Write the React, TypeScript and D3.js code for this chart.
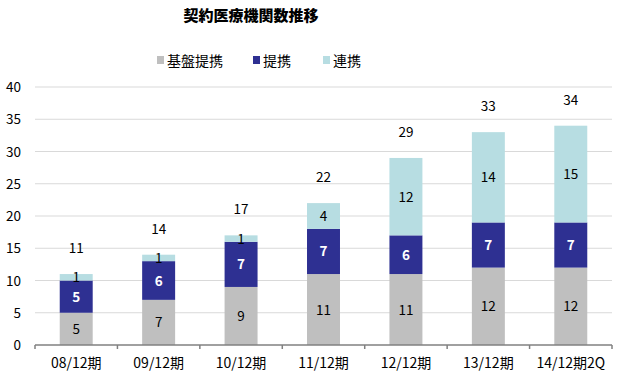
import React from "react";
import * as d3 from "d3";

const categories = ["08/12期", "09/12期", "10/12期", "11/12期", "12/12期", "13/12期", "14/12期2Q"];
const kiban = [5, 7, 9, 11, 11, 12, 12];
const teikei = [5, 6, 7, 7, 6, 7, 7];
const renkei = [1, 1, 1, 4, 12, 14, 15];
const seriesNames = ["基盤提携", "提携", "連携"];
const yTicks = [0, 5, 10, 15, 20, 25, 30, 35, 40];

const colors = ["#BFBFBF", "#2E3092", "#B7DDE2"];
const labelColors = ["#000", "#fff", "#000"];
const FONT = "'Noto Sans CJK JP', 'Noto Sans', sans-serif";

export default function App() {
  const W = 619, H = 378;
  const left = 35, right = 612, top = 87, bottom = 345;
  const x = d3.scaleBand<string>().domain(categories).range([left, right]).paddingInner(0.6).paddingOuter(0.3);
  const xb = d3.scaleBand<string>().domain(categories).range([left, right]);
  const y = d3.scaleLinear().domain([0, 40]).range([bottom, top]);

  const rows = categories.map((c, i) => ({ cat: c, a: kiban[i], b: teikei[i], c: renkei[i] }));
  const stack = d3.stack<any>().keys(["a", "b", "c"])(rows);

  return (
    <svg width={W} height={H} style={{ position: "absolute", left: 0, top: 0, fontFamily: FONT }}>
      <rect x={0} y={0} width={W} height={H} fill="#fff" />
      <text x={251} y={21} textAnchor="middle" fontSize={15} fontWeight={900}>契約医療機関数推移</text>
      {/* legend */}
      {[{ x: 157, n: 0 }, { x: 253, n: 1 }, { x: 323, n: 2 }].map((l) => (
        <g key={l.n}>
          <rect x={l.x} y={56} width={7} height={8} fill={colors[l.n]} />
          <text x={l.x + 10} y={66} fontSize={14}>{seriesNames[l.n]}</text>
        </g>
      ))}
      {/* grid */}
      {yTicks.map((t) => (
        <g key={t}>
          {t > 0 && <line x1={left} x2={right} y1={y(t)} y2={y(t)} stroke="#D9D9D9" strokeWidth={1} />}
          <text x={21} y={y(t) + 5} textAnchor="end" fontSize={13.5}>{t}</text>
        </g>
      ))}
      {/* bars */}
      {stack.map((s, si) => (
        <g key={si}>
          {s.map((d, i) => (
            <g key={i}>
              <rect x={x(categories[i])} y={y(d[1])} width={x.bandwidth()} height={y(d[0]) - y(d[1])} fill={colors[si]} />
              <text
                x={(x(categories[i]) as number) + x.bandwidth() / 2}
                y={(y(d[0]) + y(d[1])) / 2 + 5}
                textAnchor="middle"
                fontSize={13.5}
                fontWeight={si === 1 ? "bold" : "normal"}
                fill={labelColors[si]}
              >
                {d[1] - d[0]}
              </text>
            </g>
          ))}
        </g>
      ))}
      {/* totals */}
      {rows.map((r, i) => (
        <text key={i} x={(x(r.cat) as number) + x.bandwidth() / 2} y={y(r.a + r.b + r.c) - 21} textAnchor="middle" fontSize={13.5}>
          {r.a + r.b + r.c}
        </text>
      ))}
      {/* x axis */}
      <line x1={left} x2={right} y1={bottom} y2={bottom} stroke="#808080" strokeWidth={1.5} />
      {categories.map((c, i) => (
        <line key={i} x1={xb(c)} x2={xb(c)} y1={bottom} y2={bottom + 4} stroke="#808080" strokeWidth={1.5} />
      ))}
      <line x1={right} x2={right} y1={bottom} y2={bottom + 4} stroke="#808080" strokeWidth={1.5} />
      {categories.map((c) => (
        <text key={c} x={(xb(c) as number) + xb.bandwidth() / 2} y={368} textAnchor="middle" fontSize={14}>{c}</text>
      ))}
    </svg>
  );
}
